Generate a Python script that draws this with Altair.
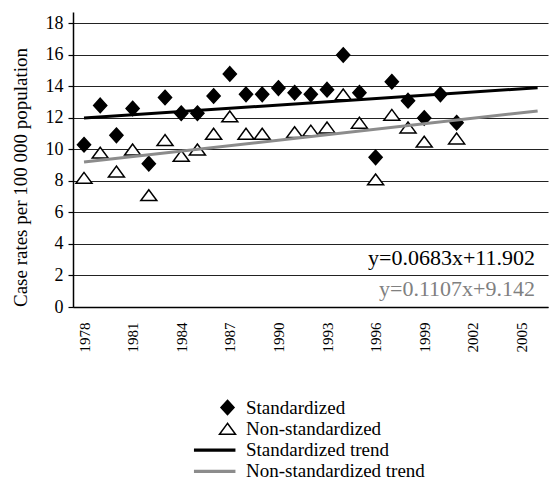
import altair as alt
import pandas as pd

# ---- data ----
years = list(range(1978, 2002))
standardized = [10.3, 12.8, 10.9, 12.6, 9.1, 13.3, 12.3, 12.3, 13.4, 14.8, 13.5, 13.5,
                13.9, 13.6, 13.5, 13.8, 16.0, 13.6, 9.5, 14.3, 13.1, 12.0, 13.5, 11.7]
non_standardized = [8.2, 9.8, 8.6, 10.0, 7.1, 10.6, 9.6, 10.0, 11.0, 12.1, 11.0, 11.0,
                    None, 11.1, 11.2, 11.4, 13.5, 11.7, 8.1, 12.2, 11.4, 10.5, None, 10.7]

trend_years = [1978, 2006]
standardized_trend = [12.0, 13.92]
non_standardized_trend = [9.2, 12.45]

x_tick_years = list(range(1978, 2006, 3))
y_ticks = list(range(0, 19, 2))

series_names = ["Standardized", "Non-standardized", "Standardized trend", "Non-standardized trend"]
equations = ["y=0.0683x+11.902", "y=0.1107x+9.142"]

# ---- styles ----
FONT = "Liberation Serif"
GRAY = "#8c8c8c"
diamond_path = "M0,-0.9L0.82,0L0,0.9L-0.82,0Z"
triangle_path = "M0,-0.68L-1,0.68L1,0.68Z"
line_path = "M-4.1,-0.1H0.9V0.1H-4.1Z"
shape_range = [diamond_path, triangle_path, line_path, line_path]
fill_range = ["black", "white", "black", GRAY]
stroke_range = ["black", "black", "black", GRAY]

rows = []
for y, v in zip(years, standardized):
    rows.append({"year": y, "value": v, "series": series_names[0]})
for y, v in zip(years, non_standardized):
    if v is not None:
        rows.append({"year": y, "value": v, "series": series_names[1]})
pts = pd.DataFrame(rows)

std_tr = pd.DataFrame({"year": trend_years, "value": standardized_trend})
nstd_tr = pd.DataFrame({"year": trend_years, "value": non_standardized_trend})

xscale = alt.Scale(domain=[1977.32, 2006.64], nice=False, zero=False)
yscale = alt.Scale(domain=[0, 18.73], nice=False)

xaxis = alt.Axis(values=x_tick_years, format="d", labelAngle=270, grid=False,
                 ticks=False, tickSize=0, labelPadding=15, domainColor="black",
                 domainWidth=1.5, labelFont=FONT, labelFontSize=15, labelColor="black",
                 title=None, labelFlush=False, labelOverlap=False)
yaxis = alt.Axis(values=y_ticks, grid=True, gridColor="#222222", gridWidth=1.2,
                 domainColor="black", domainWidth=1.5, tickColor="black", tickSize=5,
                 tickWidth=1.2, labelFont=FONT, labelFontSize=18, labelColor="black",
                 labelPadding=5, labelOverlap=False, labelFlush=False,
                 title="Case rates per 100 000 population",
                 titleFont=FONT, titleFontSize=19, titleFontWeight="normal",
                 titleColor="black", titleX=-43, titleY=165, titleBaseline="bottom")

def leg():
    return alt.Legend(title=None, orient="none", legendX=145, legendY=386,
                      labelFont=FONT, labelFontSize=19, labelColor="black",
                      symbolSize=256, symbolStrokeWidth=1.5, rowPadding=1.3,
                      labelOffset=9, labelLimit=0, symbolOpacity=1)

X = alt.X("year:Q", scale=xscale, axis=xaxis)
Y = alt.Y("value:Q", scale=yscale, axis=yaxis)

points = alt.Chart(pts).mark_point(size=256, opacity=1, fillOpacity=1,
                                   strokeWidth=1.5).encode(
    x=X, y=Y,
    shape=alt.Shape("series:N", scale=alt.Scale(domain=series_names, range=shape_range), legend=leg()),
    fill=alt.Fill("series:N", scale=alt.Scale(domain=series_names, range=fill_range), legend=leg()),
    stroke=alt.Stroke("series:N", scale=alt.Scale(domain=series_names, range=stroke_range), legend=leg()),
)

line_std = alt.Chart(std_tr).mark_line(color="black", strokeWidth=3).encode(x=X, y=Y)
line_nstd = alt.Chart(nstd_tr).mark_line(color=GRAY, strokeWidth=3).encode(x=X, y=Y)

eq1 = alt.Chart(pd.DataFrame({"t": [equations[0]]})).mark_text(
    font=FONT, fontSize=22, color="black", align="right", baseline="middle").encode(
    text="t:N", x=alt.value(462), y=alt.value(246))
eq2 = alt.Chart(pd.DataFrame({"t": [equations[1]]})).mark_text(
    font=FONT, fontSize=22, color="#808080", align="right", baseline="middle").encode(
    text="t:N", x=alt.value(462), y=alt.value(277))

chart = alt.layer(points, line_std, line_nstd, eq1, eq2).properties(
    width=475, height=295,
    autosize=alt.AutoSizeParams(type="none"),
    padding={"left": 73, "top": 12, "right": 4, "bottom": 174},
    background="white",
).configure_view(stroke=None)

chart.save("out.html", embed_options={"renderer": "svg", "actions": False})
